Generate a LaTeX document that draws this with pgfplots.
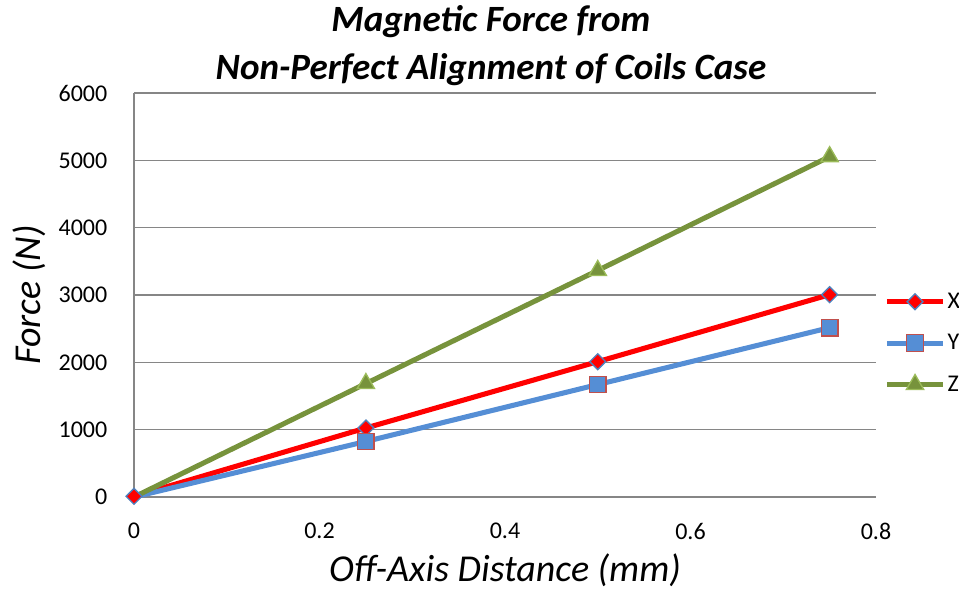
\documentclass[border=0pt]{standalone}
\usepackage{pgfplots}
\pgfplotsset{compat=1.18}
\usepackage{fontspec}
\setmainfont{Carlito}

\definecolor{xred}{HTML}{FF0000}
\definecolor{xedge}{HTML}{4F81BD}
\definecolor{yblue}{HTML}{558ED5}
\definecolor{yedge}{HTML}{C0504D}
\definecolor{zgreen}{HTML}{77933C}
\definecolor{zedge}{HTML}{9BBB59}
\definecolor{gridgray}{HTML}{868686}

\begin{document}
\begin{tikzpicture}[x=0.75pt,y=0.75pt]
\useasboundingbox (0,0) rectangle (959,590);
\node[font=\fontsize{27.8}{36}\selectfont\bfseries\itshape, align=center] at (491,544)
  {Magnetic Force from\\Non-Perfect Alignment of Coils Case};
\begin{axis}[
    at={(100.5pt,69.75pt)}, anchor=origin,
    scale only axis,
    width=556.5pt, height=303pt,
    xmin=0, xmax=0.8, ymin=0, ymax=6000,
    xtick={0,0.2,0.4,0.6,0.8},
    ytick={0,1000,2000,3000,4000,5000,6000},
    xticklabels={0,0.2,0.4,0.6,0.8},
    scaled y ticks=false,
    /pgf/number format/fixed,
    /pgf/number format/1000 sep={},
    /pgf/number format/assume math mode=true,
    axis lines*=left,
    axis line style={gridgray, line width=0.9pt},
    ymajorgrids,
    grid style={gridgray, line width=0.9pt},
    major tick length=0pt,
    tick style={draw=none},
    ticklabel style={font=\fontsize{18}{21}\selectfont},
    xticklabel style={yshift=-16pt},
    yticklabel style={xshift=-16.5pt},
    xlabel={\textit{Off-Axis Distance (mm)}},
    ylabel={\textit{Force (N)}},
    label style={font=\fontsize{28.5}{32}\selectfont},
    xlabel style={inner sep=0pt, yshift=-7pt},
    ylabel style={yshift=3pt},
    clip=false,
    legend style={draw=none, fill=none, at={(1.011,0.381)}, anchor=west,
      inner xsep=0pt, nodes={inner xsep=1.5pt},
      font=\fontsize{18}{21}\selectfont, row sep=14pt,
      legend cell align=left},
    legend image code/.code={
      \draw[#1, mark indices={2}] plot coordinates {(0cm,0cm) (0.74cm,0cm) (1.48cm,0cm)};
    },
  ]
  \addplot[xred, line width=3.8pt, mark=square*, mark size=4.2pt,
    mark options={rotate=45, fill=xred, draw=xedge, line width=1pt}]
    coordinates {(0,10) (0.25,1025) (0.5,2010) (0.75,3005)};
  \addlegendentry{X}
  \addplot[yblue, line width=3.8pt, mark=square*, mark size=6.2pt,
    mark indices={2,3,4},
    mark options={fill=yblue, draw=yedge, line width=1pt}]
    coordinates {(0,0) (0.25,825) (0.5,1670) (0.75,2515)};
  \addlegendentry{Y}
  \addplot[zgreen, line width=3.8pt, mark=triangle*, mark size=7.5pt,
    mark indices={2,3,4},
    mark options={fill=zgreen, draw=zedge, line width=1pt}]
    coordinates {(0,0) (0.25,1685) (0.5,3365) (0.75,5055)};
  \addlegendentry{Z}
\end{axis}
\end{tikzpicture}
\end{document}
